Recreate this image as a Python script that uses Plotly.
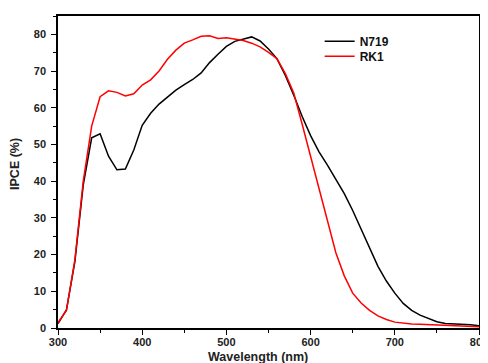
import plotly.graph_objects as go

wavelength = list(range(300, 801, 10))

n719 = [1.2, 4.9, 18, 39, 51.8, 52.9, 46.8, 43.1, 43.3, 48.5,
        55.2, 58.5, 61, 63, 64.8, 66.3, 67.7, 69.5, 72.3, 74.6,
        76.7, 78.1, 78.8, 79.3, 78.2, 76, 73.4, 68.8, 63.4, 57.6,
        52.4, 48, 44.4, 40.6, 36.6, 32, 27, 21.7, 16.8, 12.8,
        9.5, 6.7, 4.8, 3.5, 2.5, 1.7, 1.2, 1.1, 1.1, 0.9, 0.6]

rk1 = [1.5, 4.8, 18.5, 40, 55, 63, 64.6, 64.2, 63.2, 63.8,
       66.2, 67.6, 70, 73.2, 75.7, 77.6, 78.5, 79.5, 79.6, 78.9,
       79.1, 78.8, 78.3, 77.6, 76.6, 75.1, 73.4, 69.3, 64, 55.5,
       46.8, 37.8, 29, 20.5, 14.2, 9.5, 6.8, 4.8, 3.3, 2.3,
       1.6, 1.3, 1.1, 1.0, 0.9, 0.8, 0.7, 0.6, 0.5, 0.4, 0.35]

x_ticks = [300, 400, 500, 600, 700, 800]
y_ticks = [0, 10, 20, 30, 40, 50, 60, 70, 80]

x_title = "Wavelength (nm)"
y_title = "IPCE (%)"

FONT = "Arial, Liberation Sans, sans-serif"

fig = go.Figure()
fig.add_trace(go.Scatter(x=wavelength, y=n719, mode="lines", name="N719",
                         line=dict(color="#000000", width=1.5), legend="legend"))
fig.add_trace(go.Scatter(x=wavelength, y=rk1, mode="lines", name="RK1",
                         line=dict(color="#ff0000", width=1.5), legend="legend2"))

axis_common = dict(
    showgrid=False, zeroline=False, showline=True, linecolor="#000000",
    linewidth=1.5, mirror=True, ticks="outside", ticklen=5, tickwidth=1.2,
    tickcolor="#000000", automargin=False,
    tickfont=dict(family=FONT, size=11, color="#222222", weight="bold"),
)

fig.update_xaxes(
    range=[300, 800], tickvals=x_ticks, ticktext=[str(v) for v in x_ticks],
    minor=dict(ticks="outside", ticklen=3, tickwidth=1, tickcolor="#000000", dtick=50),
    ticklabelstandoff=-2, ticklabeloverflow="allow",
    **axis_common,
)
fig.update_yaxes(
    range=[0, 85], tickvals=y_ticks, ticktext=[str(v) for v in y_ticks],
    minor=dict(ticks="outside", ticklen=3, tickwidth=1, tickcolor="#000000", dtick=5),
    ticklabelstandoff=3,
    **axis_common,
)

title_font = dict(family=FONT, size=12.5, color="#222222")
fig.add_annotation(text="<b>" + x_title + "</b>", xref="paper", yref="paper",
                   x=0.4745, y=0, xanchor="center", yanchor="middle", yshift=-29,
                   showarrow=False, font=title_font)
fig.add_annotation(text="<b>" + y_title + "</b>", xref="paper", yref="paper",
                   x=-0.102, y=0.526, xanchor="center", yanchor="middle", textangle=-90,
                   showarrow=False, font=title_font)

legend_common = dict(
    bgcolor="rgba(0,0,0,0)", borderwidth=0, xanchor="left", yanchor="middle",
    font=dict(family=FONT, size=12, color="#111111", weight="bold"),
)

fig.update_layout(
    width=480, height=355,
    margin=dict(l=50, r=8.5, t=8, b=35),
    paper_bgcolor="white", plot_bgcolor="white",
    legend=dict(x=0.6215, y=0.919, **legend_common),
    legend2=dict(x=0.6215, y=0.871, **legend_common),
    showlegend=True,
)

fig.write_html("out.html")
